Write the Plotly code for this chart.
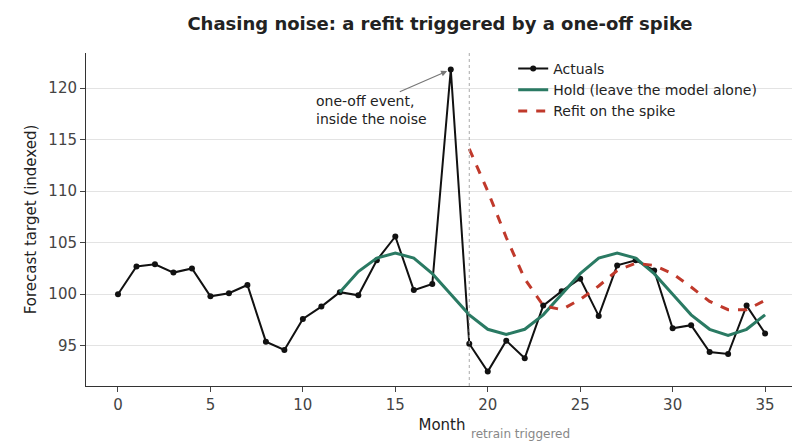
import plotly.graph_objects as go

months = list(range(36))
actuals = [100.0, 102.7, 102.9, 102.1, 102.5, 99.8, 100.1, 100.9, 95.4, 94.6,
           97.6, 98.8, 100.2, 99.9, 103.3, 105.6, 100.4, 101.0, 121.8, 95.2,
           92.5, 95.5, 93.8, 98.9, 100.3, 101.5, 97.9, 102.8, 103.3, 102.3,
           96.7, 97.0, 94.4, 94.2, 98.9, 96.2]
hold_x = list(range(12, 36))
hold = [100.2, 102.2, 103.5, 104.0, 103.5, 102.0, 100.0, 98.0, 96.6, 96.1,
        96.6, 98.0, 100.0, 102.0, 103.5, 104.0, 103.5, 102.0, 100.0, 98.0,
        96.6, 96.0, 96.6, 98.0]
refit_x = list(range(19, 36))
refit = [114.1, 110.0, 105.5, 101.5, 98.9, 98.5, 99.5, 100.8, 102.3, 103.0,
         102.8, 102.0, 100.7, 99.3, 98.5, 98.5, 99.4]
retrain_month = 19
spike_month = 18

font = "DejaVu Sans"
fig = go.Figure()

fig.add_trace(go.Scatter(
    x=months, y=actuals, name="Actuals", mode="lines+markers",
    line=dict(color="#111111", width=2), marker=dict(size=6, color="#111111")
))
fig.add_trace(go.Scatter(
    x=hold_x, y=hold, name="Hold (leave the model alone)", mode="lines",
    line=dict(color="#2a7a63", width=3)
))
fig.add_trace(go.Scatter(
    x=refit_x, y=refit, name="Refit on the spike", mode="lines",
    line=dict(color="#c0392b", width=3, dash="dash")
))

fig.add_vline(x=retrain_month, line=dict(color="#aaaaaa", width=1, dash="dot"))
fig.add_annotation(x=retrain_month, y=0, yref="paper", yshift=-48, text="retrain triggered",
                   showarrow=False, xanchor="left", yanchor="middle",
                   font=dict(size=12, color="#888888"))
fig.add_annotation(x=spike_month, y=actuals[spike_month], ax=10.6, ay=116.0,
                   axref="x", ayref="y", text="one-off event,<br>inside the noise",
                   showarrow=True, arrowhead=2, arrowsize=1, arrowwidth=1.2, arrowcolor="#777777",
                   xanchor="left", yanchor="bottom", align="left", standoff=4,
                   font=dict(size=14, color="#222222"))

fig.update_layout(
    width=800, height=445,
    margin=dict(l=78, r=10, t=45, b=67),
    paper_bgcolor="white", plot_bgcolor="white",
    font=dict(family=font, size=14, color="#333333"),
    title=dict(text="<b>Chasing noise: a refit triggered by a one-off spike</b>",
               x=0.54, xanchor="center", y=0.965, yanchor="middle",
               font=dict(size=18, color="#222222")),
    legend=dict(x=0.6, y=1.0, xanchor="left", yanchor="top", bgcolor="rgba(0,0,0,0)",
                font=dict(size=14, color="#222222")),
)
fig.update_xaxes(range=[-1.73, 36.78], tickvals=[0, 5, 10, 15, 20, 25, 30, 35],
                 showgrid=False, showline=True, linecolor="#333333", ticks="outside",
                 ticklen=5, tickfont=dict(size=15, color="#444444"), automargin=False,
                 title=dict(text="Month", standoff=6, font=dict(size=15, color="#222222")),
                 zeroline=False)
fig.update_yaxes(range=[91.1, 123.4], tickvals=[95, 100, 105, 110, 115, 120],
                 showgrid=True, gridcolor="#e3e3e3", showline=True, linecolor="#333333",
                 ticks="outside", ticklen=5, tickfont=dict(size=15, color="#444444"),
                 automargin=False,
                 title=dict(text="Forecast target (indexed)", standoff=8,
                            font=dict(size=15, color="#222222")),
                 zeroline=False)

fig.write_html("out.html")
